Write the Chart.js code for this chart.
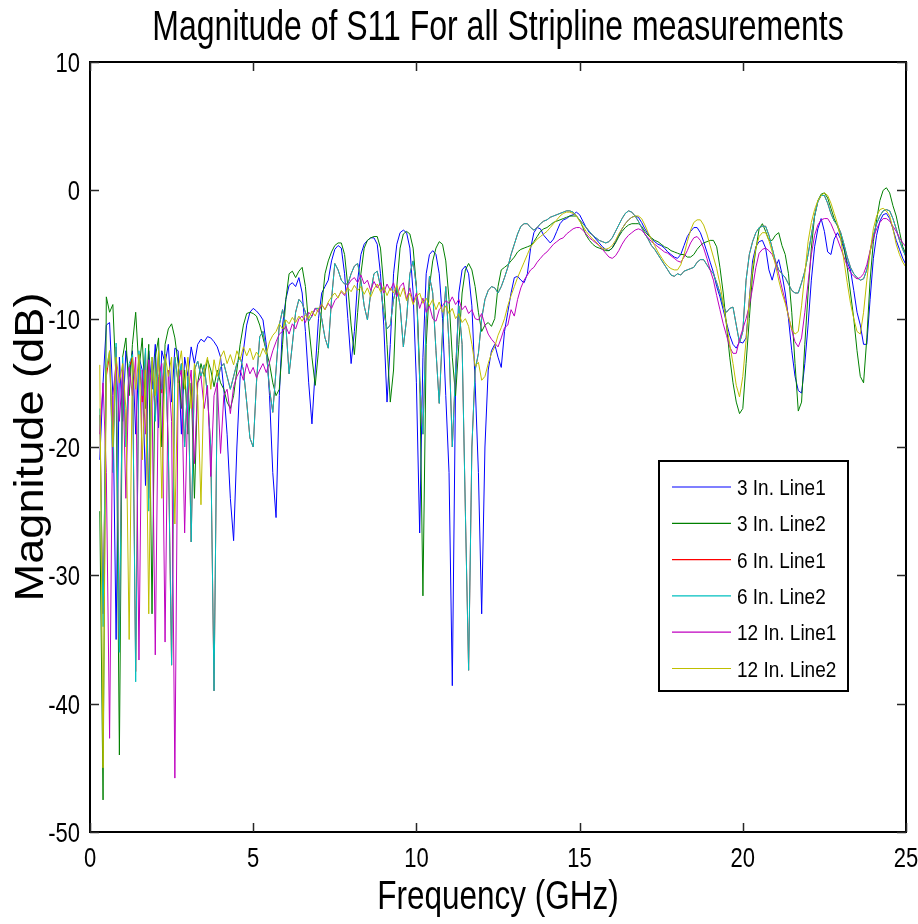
<!DOCTYPE html>
<html>
<head>
<meta charset="utf-8">
<script src="https://cdn.jsdelivr.net/npm/chart.js@4.4.1/dist/chart.umd.min.js"></script>
<style>
  html, body { margin: 0; padding: 0; background: #fff; }
  canvas { display: block; }
</style>
</head>
<body>
<canvas id="s11Chart" width="918" height="924"></canvas>
<script>
// sweep frequencies (GHz)
const freqGHz = [
  0.3,0.4,0.5,0.6,0.7,0.8,0.9,1.0,1.1,1.2,
  1.3,1.4,1.5,1.6,1.7,1.8,1.9,2.0,2.1,2.2,
  2.3,2.4,2.5,2.6,2.7,2.8,2.9,3.0,3.1,3.2,
  3.3,3.4,3.5,3.6,3.7,3.8,3.9,4.0,4.1,4.2,
  4.3,4.4,4.5,4.6,4.7,4.8,4.9,5.0,5.1,5.2,
  5.3,5.4,5.5,5.6,5.7,5.8,5.9,6.0,6.1,6.2,
  6.3,6.4,6.5,6.6,6.7,6.8,6.9,7.0,7.1,7.2,
  7.3,7.4,7.5,7.6,7.7,7.8,7.9,8.0,8.1,8.2,
  8.3,8.4,8.5,8.6,8.7,8.8,8.9,9.0,9.1,9.2,
  9.3,9.4,9.5,9.6,9.7,9.8,9.9,10.0,10.1,10.2,
  10.3,10.4,10.5,10.6,10.7,10.8,10.9,11.0,11.1,11.2,
  11.3,11.4,11.5,11.6,11.7,11.8,11.9,12.0,12.1,12.2,
  12.3,12.4,12.5,12.6,12.7,12.8,12.9,13.0,13.1,13.2,
  13.3,13.4,13.5,13.6,13.7,13.8,13.9,14.0,14.1,14.2,
  14.3,14.4,14.5,14.6,14.7,14.8,14.9,15.0,15.1,15.2,
  15.3,15.4,15.5,15.6,15.7,15.8,15.9,16.0,16.1,16.2,
  16.3,16.4,16.5,16.6,16.7,16.8,16.9,17.0,17.1,17.2,
  17.3,17.4,17.5,17.6,17.7,17.8,17.9,18.0,18.1,18.2,
  18.3,18.4,18.5,18.6,18.7,18.8,18.9,19.0,19.1,19.2,
  19.3,19.4,19.5,19.6,19.7,19.8,19.9,20.0,20.1,20.2,
  20.3,20.4,20.5,20.6,20.7,20.8,20.9,21.0,21.1,21.2,
  21.3,21.4,21.5,21.6,21.7,21.8,21.9,22.0,22.1,22.2,
  22.3,22.4,22.5,22.6,22.7,22.8,22.9,23.0,23.1,23.2,
  23.3,23.4,23.5,23.6,23.7,23.8,23.9,24.0,24.1,24.2,
  24.3,24.4,24.5,24.6,24.7,24.8,24.9,25.0
];

// |S11| in dB, one array per measurement
const line3in1 = [
  -21,-15,-10.5,-10.3,-16,-35,-13,-18,-12.5,-14.5,
  -12.5,-19,-13,-14,-23,-12.5,-15.5,-12,-18.5,-12.5,
  -13.5,-12,-16.5,-12.3,-12.5,-19,-13,-14.5,-12.2,-13.5,
  -12,-11.6,-11.8,-11.4,-11.5,-11.8,-12.2,-13,-15.5,-19,
  -24,-27.3,-20,-14.5,-12.5,-10.5,-9.5,-9.2,-9.4,-9.7,
  -10.1,-12,-16,-22,-25.5,-16,-10.5,-8.5,-7.4,-7.2,
  -7.5,-6.8,-8,-11,-15,-18.2,-14,-10,-8,-7.5,
  -7,-5.5,-4.6,-4.3,-4.5,-6.5,-10,-13.5,-11,-7,
  -5,-4.2,-3.9,-3.7,-3.7,-4.2,-6.5,-10.5,-16.5,-12,
  -6.5,-4.2,-3.3,-3.1,-3.3,-4.5,-8,-15,-26.7,-13,
  -6.5,-5,-4.7,-5,-6.5,-10,-16,-22,-38.6,-15,
  -8,-6.2,-5.9,-6.5,-9,-15,-22,-33,-20,-14,
  -12.5,-12,-13,-13.8,-11,-9.5,-8,-6.8,-6.7,-7,
  -7.2,-6.5,-4.5,-3.3,-2.9,-3.0,-3.5,-3.8,-4.1,-3.8,
  -3.2,-2.6,-2.3,-2.2,-2.0,-1.9,-1.7,-1.9,-2.4,-2.9,
  -3.3,-3.5,-3.8,-4.1,-4.4,-4.6,-4.7,-4.5,-4.0,-3.5,
  -3.0,-2.6,-2.3,-2.1,-2.0,-2.1,-2.5,-3.0,-3.4,-3.8,
  -4.0,-4.2,-4.3,-4.5,-4.8,-5.0,-5.2,-5.3,-5.0,-4.3,
  -3.6,-3.2,-2.9,-2.9,-3.3,-4.0,-4.8,-5.6,-6.4,-7.5,
  -8.3,-9.3,-10.3,-11.3,-12,-12.3,-11.8,-11.9,-11.5,-8.5,
  -5.5,-4.4,-4.0,-3.9,-4.5,-6.2,-7.0,-6.0,-5.4,-6.5,
  -8.0,-10.0,-12.5,-14.5,-15.6,-15.8,-13.5,-10.5,-7,-4.4,
  -3.0,-2.2,-3.2,-4.8,-5.0,-3.8,-3.3,-3.8,-4.6,-5.6,
  -6.2,-7.8,-9.5,-10.5,-12.0,-12.0,-8.5,-5.3,-3.5,-2.4,
  -1.9,-1.8,-2.2,-3.0,-3.9,-4.6,-5.3,-5.8
];
const line3in2 = [
  -25,-47.5,-8.3,-9.5,-8.9,-15,-44,-13,-11.5,-16,
  -12,-9.5,-14,-11.5,-17,-12,-33,-13,-11.5,-20,
  -12,-10.8,-10.4,-11.5,-13.5,-17,-14,-19,-15,-24,
  -15,-13.5,-14.5,-13.2,-14,-15.3,-14,-15,-15.5,-16.5,
  -17,-16,-14,-12,-10.5,-9.6,-9.5,-9.6,-9.8,-10.5,
  -11.5,-12.5,-13.5,-15,-16,-15.5,-12,-8.5,-6.5,-6.3,
  -6.8,-6.3,-6.0,-7.5,-10.5,-13,-15.2,-12.5,-9,-6.5,
  -5.5,-4.8,-4.3,-4.1,-4.1,-5,-7.5,-10.5,-12.8,-9.5,
  -6.5,-4.5,-3.9,-3.7,-3.6,-3.6,-4.5,-7.5,-12,-16.5,
  -14,-7.5,-4.5,-3.4,-3.2,-3.4,-4.5,-7.5,-14,-31.6,
  -12,-7.5,-5.5,-4.5,-4.0,-4.2,-5.5,-8.5,-13,-16,
  -12,-8,-6.2,-5.7,-6.2,-7.5,-9.5,-11,-10.5,-10.3,
  -10.6,-10,-7.5,-6.2,-6.0,-5.8,-5.5,-5.2,-4.8,-4.6,
  -4.5,-4.4,-4.3,-4.0,-3.6,-3.2,-3.0,-2.9,-2.7,-2.5,
  -2.4,-2.3,-2.2,-2.1,-2.0,-2.0,-2.0,-2.3,-2.9,-3.5,
  -3.9,-4.2,-4.4,-4.5,-4.6,-4.7,-4.7,-4.5,-4.1,-3.6,
  -3.2,-2.9,-2.7,-2.6,-2.6,-2.6,-2.8,-3.2,-3.5,-3.7,
  -3.9,-4.0,-4.2,-4.4,-4.5,-4.7,-4.8,-4.9,-5.0,-5.0,
  -5.2,-5.2,-5.0,-4.6,-4.3,-4.1,-4.0,-3.9,-3.9,-4.4,
  -6,-8,-10.5,-13,-15,-16.5,-17.4,-17,-13.5,-10,
  -6.5,-4.6,-3.0,-2.6,-3.2,-3.9,-3.9,-3.5,-3.3,-4.3,
  -5.0,-6.5,-9.5,-13.5,-17.2,-16.5,-12,-8,-4.5,-2.0,
  -0.8,-0.3,-0.2,-0.6,-1.4,-2.2,-2.8,-3.5,-4.4,-6,
  -8,-10,-12.5,-14.5,-15,-11.5,-7,-4,-2.3,-0.8,
  0.0,0.2,-0.2,-1.2,-2.0,-3.2,-4.4,-5
];
const line6in1 = [
  -17.5,-33,-14.5,-12.8,-21,-12.2,-35,-13.5,-19,-13.8,
  -13,-37.5,-12.8,-16.5,-12.6,-24,-13.3,-17.5,-12.9,-15.8,
  -12.8,-20,-37,-13,-15,-13.5,-20,-14.5,-27.4,-14,
  -13.3,-14.5,-13.6,-16,-20,-39,-15,-13.8,-13.5,-14.5,
  -15.5,-14.5,-13.5,-13,-14,-16.5,-19.3,-20,-15,-11.4,
  -11,-12.5,-15.5,-17.3,-14,-10.5,-9.3,-10.5,-14.3,-12,
  -9.5,-8.5,-8.8,-9.5,-10.2,-9.8,-9.2,-9.2,-10,-11.5,
  -12.3,-8.5,-5.7,-6.2,-7,-7.3,-7.3,-6.5,-5.9,-5.7,
  -7,-9,-10.1,-8,-6.5,-6.3,-7.5,-9.5,-10.8,-10.5,
  -8.5,-7.5,-9,-12.2,-10,-6.5,-5.5,-7.5,-14.8,-19,
  -10,-6.7,-8,-12.5,-16.6,-11,-7.5,-12,-20,-14,
  -9,-12,-25,-37.4,-20,-14,-12.7,-10,-8.5,-7.8,
  -7.5,-7.6,-8,-7.5,-6.8,-6,-5,-4.2,-3.4,-2.8,
  -2.6,-2.6,-2.9,-3.1,-2.9,-2.6,-2.4,-2.3,-2.1,-2.0,
  -1.9,-1.8,-1.7,-1.6,-1.6,-1.7,-2.0,-2.3,-2.6,-2.9,
  -3.2,-3.5,-3.7,-3.9,-4.0,-4.1,-4.0,-3.7,-3.2,-2.7,
  -2.2,-1.8,-1.6,-1.7,-2.0,-2.4,-2.9,-3.4,-3.8,-4.3,
  -4.6,-5.0,-5.4,-5.8,-6.2,-6.6,-6.7,-6.5,-6.6,-6.3,
  -6.2,-6.1,-6,-5.6,-5.4,-5.4,-5.8,-6.2,-6.5,-7.2,
  -8,-9,-9.5,-9.2,-9.1,-10.5,-11.9,-11,-7,-5,
  -4.0,-3.3,-2.9,-2.8,-2.8,-3.5,-4.5,-5.5,-6.2,-6.5,
  -6.8,-7.3,-7.8,-8.0,-8,-7.2,-6.3,-5.0,-3.5,-2.0,
  -0.9,-0.4,-0.4,-1.0,-1.8,-2.4,-2.7,-3.3,-4.2,-5.2,
  -6.0,-6.5,-6.8,-7.0,-6.9,-6.2,-4.8,-3.5,-2.6,-2.0,
  -1.6,-1.5,-1.6,-2.2,-3.0,-3.9,-4.6,-5.2
];
const line6in2 = [
  -17,-34,-14,-12.5,-22,-11.9,-36,-13,-20,-13.5,
  -12.8,-38.3,-12.5,-16,-12.3,-25,-13,-18,-12.6,-15.5,
  -12.8,-20,-37,-13,-15,-13.5,-20,-14.5,-27.4,-14,
  -13.3,-14.5,-13.6,-16,-20,-39,-15,-13.8,-13.5,-14.5,
  -15.5,-14.5,-13.5,-13,-14,-16.5,-19.3,-20,-15,-11.4,
  -11,-12.5,-15.5,-17.3,-14,-10.5,-9.3,-10.5,-14.3,-12,
  -9.5,-8.5,-8.8,-9.5,-10.2,-9.8,-9.2,-9.2,-10,-11.5,
  -12.3,-8.5,-5.7,-6.2,-7,-7.3,-7.3,-6.5,-5.9,-5.7,
  -7,-9,-10.1,-8,-6.5,-6.3,-7.5,-9.5,-10.8,-10.5,
  -8.5,-7.5,-9,-12.2,-10,-6.5,-5.5,-7.5,-14.8,-19,
  -10,-6.7,-8,-12.5,-16.6,-11,-7.5,-12,-20,-14,
  -9,-12,-25,-37.4,-20,-14,-12.7,-10,-8.5,-7.8,
  -7.5,-7.6,-8,-7.5,-6.8,-6,-5,-4.2,-3.4,-2.8,
  -2.6,-2.6,-2.9,-3.1,-2.9,-2.6,-2.4,-2.3,-2.1,-2.0,
  -1.9,-1.8,-1.7,-1.6,-1.6,-1.7,-2.0,-2.3,-2.6,-2.9,
  -3.2,-3.5,-3.7,-3.9,-4.0,-4.1,-4.0,-3.7,-3.2,-2.7,
  -2.2,-1.8,-1.6,-1.7,-2.0,-2.4,-2.9,-3.4,-3.8,-4.3,
  -4.6,-5.0,-5.4,-5.8,-6.2,-6.6,-6.7,-6.5,-6.6,-6.3,
  -6.2,-6.1,-6,-5.6,-5.4,-5.4,-5.8,-6.2,-6.5,-7.2,
  -8,-9,-9.5,-9.2,-9.1,-10.5,-11.9,-11,-7,-5,
  -4.0,-3.3,-2.9,-2.8,-2.8,-3.5,-4.5,-5.5,-6.2,-6.5,
  -6.8,-7.3,-7.8,-8.0,-8,-7.2,-6.3,-5.0,-3.5,-2.0,
  -0.9,-0.4,-0.4,-1.0,-1.8,-2.4,-2.7,-3.3,-4.2,-5.2,
  -6.0,-6.5,-6.8,-7.0,-6.9,-6.2,-4.8,-3.5,-2.6,-2.0,
  -1.6,-1.5,-1.6,-2.2,-3.0,-3.9,-4.6,-5.2
];
const line12in1 = [
  -19,-15,-22,-42.7,-16,-13.5,-18,-14,-24,-13.8,
  -16,-13,-36.6,-14,-19,-13.2,-16,-36.2,-14.5,-13.5,
  -35.2,-14,-18,-45.8,-15,-14,-26.7,-16,-14,-21.3,
  -15,-14.5,-17,-15.2,-22.3,-16,-15,-20.5,-16,-15.5,
  -17.4,-15.3,-14.5,-14,-14.8,-13.5,-14.3,-13.8,-14.6,-14.0,
  -13.5,-14.2,-13.4,-12.5,-11.8,-11.2,-11.0,-10.6,-11.2,-10.4,
  -10.8,-10.0,-9.8,-10.3,-9.5,-9.8,-9.2,-9.5,-8.9,-9.3,
  -8.8,-9.2,-8.6,-8.3,-7.9,-8.2,-7.4,-7.0,-6.8,-7.2,
  -6.6,-7.3,-7.0,-7.8,-7.1,-7.6,-7.2,-8.0,-7.3,-7.8,
  -7.2,-8.3,-7.5,-7.2,-8.5,-7.6,-8.8,-8.0,-9.2,-8.4,
  -9.5,-9.0,-10.0,-10.2,-9.3,-9.0,-8.6,-8.8,-8.3,-8.9,
  -8.5,-9.3,-9.0,-9.6,-9.3,-10.0,-10.1,-9.6,-10.5,-11.2,
  -11.6,-11.9,-12.2,-11.5,-10.7,-10.5,-9.3,-9.8,-8.5,-7.6,
  -7.0,-6.6,-6.2,-6.0,-5.6,-5.3,-5.0,-4.8,-4.5,-4.2,
  -4.0,-3.8,-3.7,-3.4,-3.2,-3.0,-2.9,-2.9,-3.1,-3.4,
  -3.7,-3.9,-4.1,-4.3,-4.6,-4.9,-5.2,-5.3,-5.1,-4.7,
  -4.2,-3.8,-3.5,-3.3,-3.1,-3.0,-3.1,-3.4,-3.7,-4.0,
  -4.2,-4.4,-4.6,-4.8,-4.9,-5.1,-5.3,-5.5,-5.6,-5.2,
  -4.7,-4.1,-3.7,-3.6,-3.9,-4.5,-5.3,-6.2,-7.0,-8.2,
  -9.3,-10.4,-11.3,-12.2,-12.7,-12.7,-11.6,-10.8,-10.0,-9.0,
  -7.6,-6.0,-4.9,-4.6,-4.5,-4.7,-5.0,-5.6,-6.5,-7.6,
  -8.6,-9.8,-10.9,-11.8,-12.2,-11.5,-9.5,-7.2,-5.0,-3.5,
  -2.7,-2.3,-2.2,-2.2,-2.6,-3.2,-3.8,-4.5,-5.2,-5.9,
  -6.4,-6.7,-6.9,-6.8,-6.5,-5.8,-4.7,-3.7,-3.0,-2.5,
  -2.2,-2.2,-2.4,-2.8,-3.2,-3.7,-4.1,-4.4
];
const line12in2 = [
  -13.6,-45,-14,-12.5,-20,-13,-15,-13.5,-17,-35,
  -13,-15.5,-12.8,-21,-14,-33,-13,-16,-12.5,-24,
  -12.8,-14.5,-13,-26,-14,-12.5,-15.5,-13,-17,-13.5,
  -16,-24.5,-14,-13,-15.5,-13.2,-14.5,-13,-12.5,-13.5,
  -12.8,-13.6,-12.5,-13.2,-12.2,-12.9,-12.3,-13.2,-12.6,-13.0,
  -12.3,-12.8,-11.8,-11.3,-11.0,-10.4,-10.8,-10.1,-10.4,-9.9,
  -10.3,-9.8,-10.2,-9.7,-10.0,-9.4,-9.8,-9.2,-8.9,-9.3,
  -8.7,-8.3,-8.0,-8.4,-7.8,-8.1,-7.6,-7.9,-7.4,-7.8,
  -7.5,-8.1,-7.6,-8.3,-7.7,-7.3,-7.9,-7.5,-8.2,-7.6,
  -8.0,-7.4,-8.3,-7.6,-8.6,-8.0,-8.9,-8.3,-8.0,-8.8,
  -8.4,-9.0,-8.5,-9.3,-8.7,-9.5,-9.0,-9.6,-9.2,-10.0,
  -9.6,-10.3,-10.0,-10.6,-12.0,-13.7,-13.4,-14.8,-14.5,-13.5,
  -12.7,-12.2,-11.3,-10.7,-10.0,-9.0,-8.2,-7.5,-6.8,-6.2,
  -5.6,-5.0,-4.4,-4.1,-3.8,-3.6,-3.4,-3.2,-2.9,-2.6,
  -2.3,-2.0,-1.8,-1.7,-1.7,-1.8,-2.0,-2.4,-2.8,-3.2,
  -3.5,-3.8,-4.0,-4.3,-4.5,-4.6,-4.5,-4.3,-3.9,-3.4,
  -3.0,-2.6,-2.3,-2.1,-2.0,-2.0,-2.2,-2.7,-3.3,-3.8,
  -4.3,-4.8,-5.2,-5.6,-5.9,-6.1,-6.2,-6.2,-5.8,-5.0,
  -4.0,-3.1,-2.5,-2.3,-2.3,-2.7,-3.4,-4.3,-5.2,-6.1,
  -7.3,-8.8,-10.4,-12.0,-13.5,-15.2,-16.1,-14.5,-11.7,-8.5,
  -6.0,-4.5,-3.6,-3.3,-3.3,-3.9,-4.8,-5.8,-7.0,-8.0,
  -8.8,-9.8,-10.8,-11.2,-11.0,-9.0,-6.5,-4.0,-2.5,-1.5,
  -0.8,-0.4,-0.2,-0.4,-1.0,-1.8,-2.6,-3.8,-5.5,-7.2,
  -8.8,-10.0,-11.0,-11.2,-9.5,-7.0,-4.8,-3.0,-2.0,-1.5,
  -1.4,-1.6,-2.0,-3.0,-4.2,-5.0,-5.6,-6.0
];

const seriesNames = ['3 In. Line1', '3 In. Line2', '6 In. Line1', '6 In. Line2', '12 In. Line1', '12 In. Line2'];
const seriesColors = ['#0000ff', '#008000', '#ff0000', '#00bfbf', '#bf00bf', '#bfbf00'];
const seriesValues = [line3in1, line3in2, line6in1, line6in2, line12in1, line12in2];

const xTicks = [0, 5, 10, 15, 20, 25];
const yTicks = [-50, -40, -30, -20, -10, 0, 10];

const chartTitle = 'Magnitude of S11 For all Stripline measurements';
const xTitle = 'Frequency (GHz)';
const yTitle = 'Magnitude (dB)';

const FONT = '"Liberation Sans", Arial, Helvetica, sans-serif';

// text drawn taller than wide, like the original figure
function drawText(ctx, str, x, y, size, sy, align, rot) {
    ctx.save();
    ctx.translate(x, y);
    ctx.scale(1, sy);
    if (rot) ctx.rotate(rot);
    ctx.font = size + 'px ' + FONT;
    ctx.textAlign = align;
    ctx.textBaseline = 'alphabetic';
    ctx.fillStyle = '#000';
    ctx.fillText(str, 0, 0);
    ctx.restore();
}

const matlabAxes = {
    id: 'matlabAxes',
    afterDraw(chart) {
        const ctx = chart.ctx;
        const a = chart.chartArea;
        const xs = chart.scales.x;
        const ys = chart.scales.y;
        ctx.save();

        // axes box
        ctx.strokeStyle = '#000';
        ctx.lineWidth = 2;
        ctx.strokeRect(a.left, a.top, a.right - a.left, a.bottom - a.top);

        // inward ticks on all four sides
        ctx.lineWidth = 1.5;
        ctx.strokeStyle = '#262626';
        ctx.beginPath();
        xs.ticks.forEach(t => {
            const px = Math.round(xs.getPixelForValue(t.value)) + 0.5;
            ctx.moveTo(px, a.bottom); ctx.lineTo(px, a.bottom - 9);
            ctx.moveTo(px, a.top); ctx.lineTo(px, a.top + 9);
        });
        ys.ticks.forEach(t => {
            const py = Math.round(ys.getPixelForValue(t.value)) + 0.5;
            ctx.moveTo(a.left, py); ctx.lineTo(a.left + 9, py);
            ctx.moveTo(a.right, py); ctx.lineTo(a.right - 9, py);
        });
        ctx.stroke();

        // tick labels
        xs.ticks.forEach(t => {
            drawText(ctx, String(t.value), xs.getPixelForValue(t.value), a.bottom + 35, 22, 1.25, 'center');
        });
        ys.ticks.forEach(t => {
            drawText(ctx, String(t.value), a.left - 10, ys.getPixelForValue(t.value) + 10, 22, 1.25, 'right');
        });

        // titles
        drawText(ctx, chartTitle, (a.left + a.right) / 2, 40, 32, 1.3, 'center');
        drawText(ctx, xTitle, (a.left + a.right) / 2, 909, 31.5, 1.3, 'center');
        drawText(ctx, yTitle, 43, (a.top + a.bottom) / 2, 40, 1.13, 'center', -Math.PI / 2);

        // legend box
        const lg = { x: 659, y: 461, w: 189, h: 230 };
        ctx.fillStyle = '#fff';
        ctx.fillRect(lg.x, lg.y, lg.w, lg.h);
        ctx.strokeStyle = '#000';
        ctx.lineWidth = 2;
        ctx.strokeRect(lg.x, lg.y, lg.w, lg.h);
        chart.data.datasets.forEach((ds, i) => {
            const cy = lg.y + 26 + i * 36.3;
            ctx.strokeStyle = ds.borderColor;
            ctx.lineWidth = 1.2;
            ctx.beginPath();
            ctx.moveTo(lg.x + 13, cy);
            ctx.lineTo(lg.x + 72, cy);
            ctx.stroke();
            drawText(ctx, ds.label, lg.x + 78, cy + 8, 19, 1.15, 'left');
        });
        ctx.restore();
    }
};

const datasets = seriesValues.map((vals, i) => ({
    label: seriesNames[i],
    data: freqGHz.map((f, k) => ({ x: f, y: vals[k] })),
    borderColor: seriesColors[i],
    backgroundColor: seriesColors[i],
    borderWidth: 1,
    pointRadius: 0,
    fill: false,
    tension: 0,
    // later lines sit on top, as in the original plot
    order: seriesValues.length - 1 - i
}));

new Chart(document.getElementById('s11Chart'), {
    type: 'line',
    data: { datasets: datasets },
    options: {
        responsive: false,
        animation: false,
        devicePixelRatio: 1,
        layout: { padding: { left: 0, right: 12, top: 62, bottom: 0 } },
        plugins: {
            legend: { display: false },
            title: { display: false },
            tooltip: { enabled: false }
        },
        scales: {
            x: {
                type: 'linear',
                min: 0,
                max: 25,
                grid: { display: false },
                border: { display: false },
                ticks: { display: false },
                afterBuildTicks: s => { s.ticks = xTicks.map(v => ({ value: v })); },
                afterFit: s => { s.height = 92; }
            },
            y: {
                type: 'linear',
                min: -50,
                max: 10,
                grid: { display: false },
                border: { display: false },
                ticks: { display: false },
                afterBuildTicks: s => { s.ticks = yTicks.map(v => ({ value: v })); },
                afterFit: s => { s.width = 90; }
            }
        }
    },
    plugins: [matlabAxes]
});
</script>
</body>
</html>
